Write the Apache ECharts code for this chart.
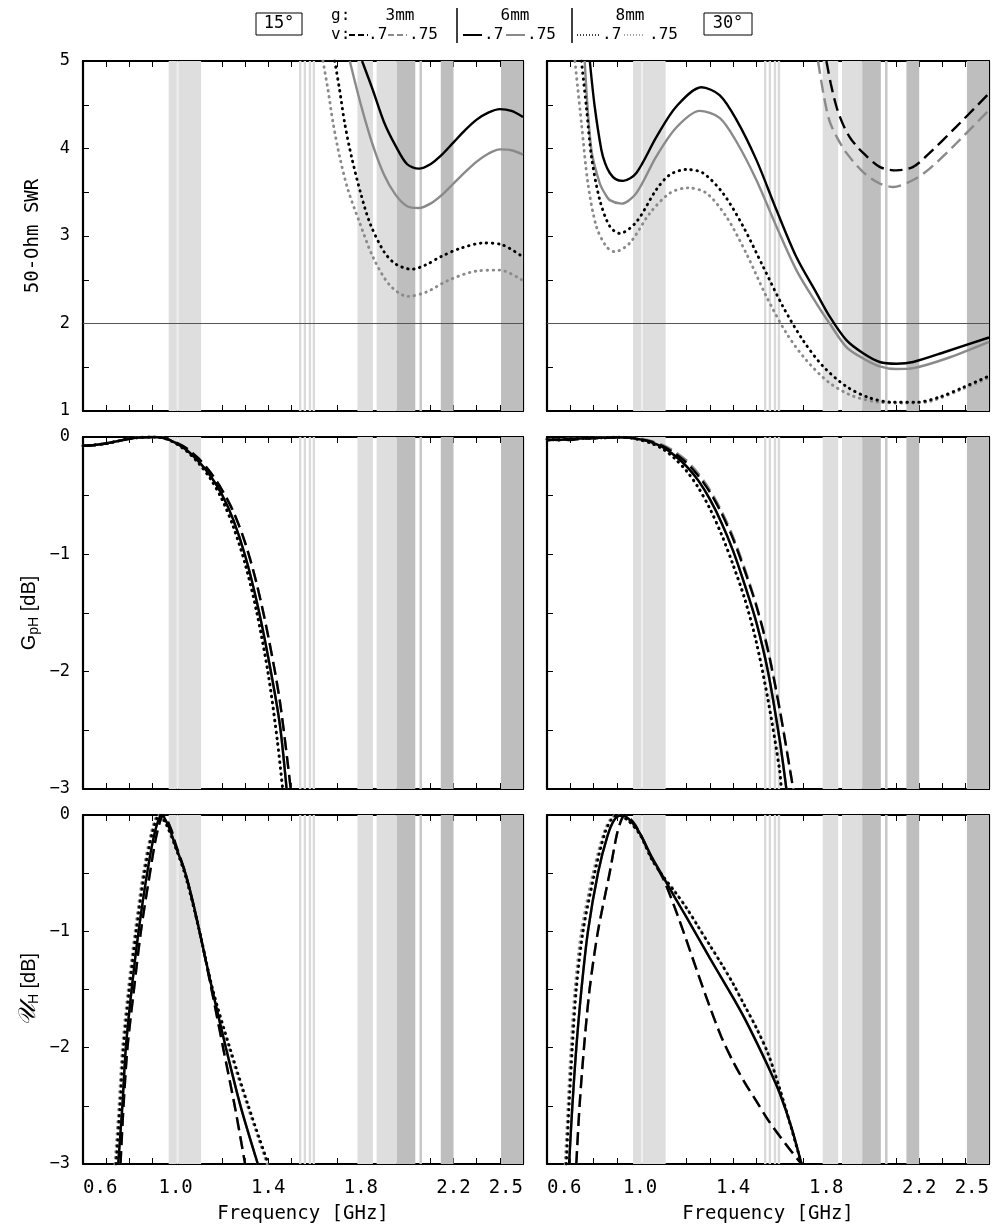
<!DOCTYPE html>
<html><head><meta charset="utf-8">
<script src="https://cdn.jsdelivr.net/npm/echarts@6/dist/echarts.min.js"></script>
<style>html,body{margin:0;padding:0;background:#fff}#c{width:1006px;height:1225px}</style>
</head><body><div id="c"></div>
<script>
// ---------- tick labels ----------
const xTickLabels = [0.6, 1.0, 1.4, 1.8, 2.2, 2.5];
const swrTickLabels = [1, 2, 3, 4, 5];
const dbTickLabels = [0, -1, -2, -3];
const swrLimit = 2;

// ---------- frequency bands [GHz] ----------
const bandsLight = [[0.97, 1.005], [1.012, 1.11], [1.785, 1.852], [1.868, 1.955]];
const bandsGap = [[1.005, 1.012]];
const bandsThin = [[1.533, 1.543], [1.553, 1.563], [1.575, 1.585], [1.592, 1.602]];
const bandsMid = [[2.053, 2.064]];
const bandsDark = [[1.955, 2.035], [2.145, 2.2], [2.405, 2.5]];

// ---------- 50-Ohm SWR, 15 deg ----------
const swr15_g6_v70 = [[1.805,5.0],[1.85,4.68],[1.90,4.30],[1.95,4.03],[2.00,3.82],[2.05,3.77],[2.10,3.82],[2.15,3.93],[2.20,4.07],[2.25,4.21],[2.30,4.33],[2.35,4.41],[2.40,4.45],[2.45,4.43],[2.50,4.36]];
const swr15_g6_v75 = [[1.752,5.0],[1.80,4.50],[1.85,4.05],[1.90,3.70],[1.95,3.47],[2.00,3.34],[2.05,3.32],[2.10,3.37],[2.15,3.47],[2.20,3.60],[2.25,3.73],[2.30,3.85],[2.35,3.94],[2.40,3.99],[2.45,3.98],[2.50,3.93]];
const swr15_g8_v70 = [[1.687,5.0],[1.708,4.67],[1.73,4.29],[1.76,3.90],[1.80,3.48],[1.84,3.14],[1.90,2.82],[1.95,2.68],[2.02,2.62],[2.08,2.67],[2.15,2.77],[2.23,2.86],[2.33,2.92],[2.41,2.90],[2.50,2.76]];
const swr15_g8_v75 = [[1.636,5.0],[1.658,4.67],[1.68,4.29],[1.708,3.91],[1.744,3.53],[1.795,3.15],[1.852,2.76],[1.924,2.44],[2.003,2.31],[2.083,2.36],[2.183,2.50],[2.30,2.60],[2.40,2.61],[2.50,2.49]];

// ---------- 50-Ohm SWR, 30 deg ----------
const swr30_g3_v70 = [[1.801,5.0],[1.82,4.74],[1.844,4.48],[1.87,4.29],[1.901,4.13],[1.93,4.03],[1.959,3.95],[2.03,3.79],[2.102,3.75],[2.174,3.79],[2.245,3.95],[2.36,4.25],[2.50,4.63]];
const swr30_g3_v75 = [[1.765,5.0],[1.79,4.60],[1.815,4.31],[1.85,4.11],[1.887,3.95],[1.959,3.73],[2.03,3.60],[2.088,3.56],[2.174,3.64],[2.245,3.77],[2.36,4.06],[2.50,4.44]];
const swr30_g6_v70 = [[0.784,5.0],[0.805,4.48],[0.834,3.98],[0.85,3.83],[0.87,3.72],[0.895,3.65],[0.927,3.63],[0.984,3.72],[1.07,4.13],[1.156,4.48],[1.264,4.70],[1.342,4.61],[1.414,4.33],[1.50,3.87],[1.586,3.30],[1.672,2.76],[1.758,2.35],[1.815,2.08],[1.887,1.81],[1.959,1.66],[2.03,1.56],[2.102,1.54],[2.174,1.56],[2.317,1.68],[2.50,1.84]];
const swr30_g6_v75 = [[0.762,5.0],[0.791,3.98],[0.827,3.60],[0.85,3.48],[0.87,3.41],[0.92,3.37],[0.984,3.49],[1.07,3.91],[1.156,4.24],[1.256,4.43],[1.342,4.35],[1.414,4.08],[1.50,3.64],[1.586,3.11],[1.672,2.61],[1.758,2.23],[1.815,2.00],[1.887,1.73],[1.959,1.60],[2.03,1.51],[2.10,1.48],[2.174,1.49],[2.317,1.60],[2.50,1.79]];
const swr30_g8_v70 = [[0.748,5.0],[0.769,4.48],[0.791,3.91],[0.827,3.41],[0.87,3.11],[0.913,3.03],[0.984,3.16],[1.07,3.53],[1.128,3.70],[1.199,3.76],[1.27,3.72],[1.356,3.49],[1.443,3.11],[1.529,2.65],[1.615,2.19],[1.70,1.81],[1.787,1.51],[1.887,1.28],[1.987,1.15],[2.088,1.10],[2.188,1.10],[2.288,1.16],[2.389,1.27],[2.50,1.40]];
const swr30_g8_v75 = [[0.72,5.0],[0.748,4.29],[0.776,3.60],[0.812,3.11],[0.855,2.88],[0.891,2.82],[0.956,2.92],[1.042,3.26],[1.128,3.49],[1.206,3.55],[1.285,3.49],[1.371,3.22],[1.457,2.80],[1.543,2.31],[1.629,1.89],[1.715,1.58],[1.815,1.32],[1.916,1.17],[2.03,1.10],[2.145,1.09],[2.246,1.11],[2.375,1.24],[2.50,1.38]];

// ---------- G_pH [dB], 15 deg ----------
const gph15_g6 = [[0.6,-0.075],[0.65,-0.068],[0.7,-0.055],[0.75,-0.035],[0.8,-0.015],[0.85,-0.003],[0.9,0],[0.95,-0.01],[1.0,-0.05],[1.05,-0.115],[1.1,-0.21],[1.15,-0.33],[1.2,-0.49],[1.25,-0.71],[1.3,-1.01],[1.35,-1.40],[1.4,-1.88],[1.45,-2.45],[1.479,-3.0]];
const gph15_g3 = [[0.6,-0.075],[0.65,-0.068],[0.7,-0.055],[0.75,-0.035],[0.8,-0.015],[0.85,-0.003],[0.9,0],[0.95,-0.01],[1.0,-0.045],[1.05,-0.10],[1.1,-0.185],[1.15,-0.30],[1.2,-0.45],[1.25,-0.64],[1.3,-0.90],[1.35,-1.25],[1.4,-1.70],[1.45,-2.25],[1.497,-3.0]];
const gph15_g8 = [[0.6,-0.075],[0.65,-0.068],[0.7,-0.055],[0.75,-0.035],[0.8,-0.015],[0.85,-0.003],[0.9,0],[0.95,-0.01],[1.0,-0.055],[1.05,-0.125],[1.1,-0.225],[1.15,-0.355],[1.2,-0.53],[1.25,-0.77],[1.3,-1.08],[1.35,-1.49],[1.4,-2.02],[1.44,-2.6],[1.462,-3.0]];

// ---------- G_pH [dB], 30 deg ----------
const gph30_g6 = [[0.6,-0.02],[0.65,-0.025],[0.7,-0.015],[0.75,-0.012],[0.8,-0.01],[0.85,-0.005],[0.9,-0.002],[0.95,-0.005],[1.0,-0.02],[1.05,-0.045],[1.1,-0.09],[1.15,-0.16],[1.2,-0.25],[1.25,-0.37],[1.3,-0.53],[1.35,-0.73],[1.4,-0.97],[1.45,-1.26],[1.5,-1.58],[1.55,-2.0],[1.6,-2.58],[1.629,-3.0]];
const gph30_g3 = [[0.6,-0.03],[0.65,-0.02],[0.7,-0.025],[0.75,-0.015],[0.8,-0.01],[0.85,-0.008],[0.9,-0.002],[0.95,-0.004],[1.0,-0.018],[1.05,-0.04],[1.1,-0.08],[1.15,-0.14],[1.2,-0.22],[1.25,-0.33],[1.3,-0.47],[1.35,-0.65],[1.4,-0.87],[1.45,-1.14],[1.5,-1.44],[1.55,-1.82],[1.6,-2.32],[1.65,-2.9],[1.658,-3.0]];
const gph30_g3_v75 = [[0.6,-0.02],[0.65,-0.02],[0.7,-0.015],[0.75,-0.012],[0.8,-0.01],[0.85,-0.005],[0.9,-0.002],[0.95,-0.004],[1.0,-0.015],[1.05,-0.035],[1.1,-0.07],[1.15,-0.125],[1.2,-0.20],[1.25,-0.31],[1.3,-0.45],[1.35,-0.63],[1.4,-0.85],[1.45,-1.12],[1.5,-1.43],[1.55,-1.81],[1.6,-2.31],[1.65,-2.9],[1.66,-3.0]];
const gph30_g8 = [[0.6,-0.02],[0.65,-0.025],[0.7,-0.015],[0.75,-0.012],[0.8,-0.01],[0.85,-0.005],[0.9,-0.002],[0.95,-0.005],[1.0,-0.025],[1.05,-0.055],[1.1,-0.105],[1.15,-0.185],[1.2,-0.29],[1.25,-0.43],[1.3,-0.61],[1.35,-0.83],[1.4,-1.09],[1.45,-1.38],[1.5,-1.75],[1.55,-2.24],[1.6,-2.84],[1.607,-3.0]];

// ---------- U_H [dB], 15 deg ----------
const uh15_g6 = [[0.752,-3.0],[0.77,-2.5],[0.785,-2.0],[0.81,-1.5],[0.84,-1.0],[0.877,-0.5],[0.91,-0.15],[0.94,0],[0.97,-0.1],[1.0,-0.27],[1.042,-0.5],[1.075,-0.75],[1.103,-1.0],[1.158,-1.5],[1.217,-2.0],[1.28,-2.5],[1.355,-3.0]];
const uh15_g3 = [[0.762,-3.0],[0.775,-2.5],[0.792,-2.0],[0.82,-1.5],[0.85,-1.0],[0.885,-0.55],[0.92,-0.15],[0.948,0],[0.98,-0.12],[1.0,-0.25],[1.042,-0.5],[1.103,-1.0],[1.155,-1.5],[1.205,-2.0],[1.255,-2.5],[1.30,-3.0]];
const uh15_g8 = [[0.743,-3.0],[0.76,-2.5],[0.775,-2.0],[0.80,-1.5],[0.83,-1.0],[0.865,-0.5],[0.90,-0.15],[0.93,0],[0.96,-0.08],[1.0,-0.28],[1.042,-0.52],[1.103,-1.0],[1.16,-1.5],[1.234,-2.0],[1.314,-2.5],[1.40,-3.0]];
const uh15_g8_v75 = [[0.738,-3.0],[0.755,-2.5],[0.77,-2.0],[0.795,-1.5],[0.825,-1.0],[0.86,-0.5],[0.895,-0.15],[0.925,0],[0.96,-0.09],[1.0,-0.28],[1.042,-0.52],[1.103,-1.0],[1.16,-1.5],[1.23,-2.0],[1.31,-2.5],[1.395,-3.0]];

// ---------- U_H [dB], 30 deg ----------
const uh30_g6 = [[0.695,-3],[0.709,-2.5],[0.726,-2],[0.748,-1.5],[0.776,-1],[0.819,-0.5],[0.86,-0.18],[0.89,-0.04],[0.92,0],[0.96,-0.05],[1.0,-0.16],[1.05,-0.36],[1.1,-0.535],[1.15,-0.71],[1.2,-0.88],[1.25,-1.055],[1.3,-1.23],[1.35,-1.40],[1.4,-1.57],[1.45,-1.75],[1.5,-1.95],[1.55,-2.16],[1.6,-2.39],[1.65,-2.68],[1.694,-3]];
const uh30_g3 = [[0.726,-3],[0.74,-2.5],[0.759,-2],[0.783,-1.5],[0.819,-1],[0.869,-0.5],[0.9,-0.17],[0.92,-0.04],[0.934,0],[0.97,-0.06],[1.0,-0.16],[1.05,-0.37],[1.1,-0.55],[1.15,-0.80],[1.2,-1.08],[1.25,-1.37],[1.3,-1.65],[1.35,-1.91],[1.4,-2.12],[1.45,-2.30],[1.5,-2.46],[1.55,-2.62],[1.6,-2.76],[1.65,-2.89],[1.694,-3]];
const uh30_g8 = [[0.683,-3],[0.695,-2.5],[0.709,-2],[0.726,-1.5],[0.755,-1],[0.805,-0.5],[0.85,-0.15],[0.88,-0.03],[0.905,0],[0.95,-0.05],[1.0,-0.17],[1.05,-0.38],[1.1,-0.53],[1.15,-0.66],[1.2,-0.80],[1.25,-0.96],[1.3,-1.12],[1.35,-1.28],[1.4,-1.45],[1.45,-1.64],[1.5,-1.83],[1.55,-2.05],[1.6,-2.35],[1.65,-2.69],[1.694,-3]];
const uh30_g8_v75 = [[0.678,-3],[0.69,-2.5],[0.703,-2],[0.72,-1.5],[0.748,-1],[0.798,-0.5],[0.845,-0.15],[0.875,-0.03],[0.9,0],[0.95,-0.05],[1.0,-0.17],[1.05,-0.38],[1.1,-0.53],[1.15,-0.66],[1.2,-0.80],[1.25,-0.96],[1.3,-1.12],[1.35,-1.28],[1.4,-1.45],[1.45,-1.64],[1.5,-1.83],[1.55,-2.05],[1.6,-2.35],[1.65,-2.69],[1.694,-3]];

// ---------- styling ----------
const BLACK = '#000000', GRAY = '#8a8a8a';
const MONO = 'DejaVu Sans Mono', SANS = 'Liberation Sans';
const lineStyles = {
  solid: { type: 'solid', width: 2.4 },
  dash: { type: [13, 6], width: 2.4 },
  dot: { type: [0.5, 5.5], width: 2.9, cap: 'round' }
};

// curves per panel: [data, color, style]  (gray first so black draws on top)
const panels = [
  { kind: 'swr', curves: [[swr15_g8_v75, GRAY, 'dot'], [swr15_g6_v75, GRAY, 'solid'], [swr15_g8_v70, BLACK, 'dot'], [swr15_g6_v70, BLACK, 'solid']] },
  { kind: 'swr', curves: [[swr30_g3_v75, GRAY, 'dash'], [swr30_g8_v75, GRAY, 'dot'], [swr30_g6_v75, GRAY, 'solid'], [swr30_g3_v70, BLACK, 'dash'], [swr30_g8_v70, BLACK, 'dot'], [swr30_g6_v70, BLACK, 'solid']] },
  { kind: 'gph', curves: [[gph15_g3, GRAY, 'dash'], [gph15_g8, GRAY, 'dot'], [gph15_g6, GRAY, 'solid'], [gph15_g8, BLACK, 'dot'], [gph15_g6, BLACK, 'solid'], [gph15_g3, BLACK, 'dash']] },
  { kind: 'gph', curves: [[gph30_g3_v75, GRAY, 'dash'], [gph30_g8, GRAY, 'dot'], [gph30_g6, GRAY, 'solid'], [gph30_g8, BLACK, 'dot'], [gph30_g6, BLACK, 'solid'], [gph30_g3, BLACK, 'dash']] },
  { kind: 'uh', curves: [[uh15_g3, GRAY, 'dash'], [uh15_g8_v75, GRAY, 'dot'], [uh15_g6, GRAY, 'solid'], [uh15_g8, BLACK, 'dot'], [uh15_g6, BLACK, 'solid'], [uh15_g3, BLACK, 'dash']] },
  { kind: 'uh', curves: [[uh30_g3, GRAY, 'dash'], [uh30_g8_v75, GRAY, 'dot'], [uh30_g6, GRAY, 'solid'], [uh30_g8, BLACK, 'dot'], [uh30_g6, BLACK, 'solid'], [uh30_g3, BLACK, 'dash']] }
];

const grids = [
  { left: 83, top: 61, width: 440, height: 350 }, { left: 547, top: 61, width: 442, height: 350 },
  { left: 83, top: 437, width: 440, height: 352 }, { left: 547, top: 437, width: 442, height: 352 },
  { left: 83, top: 815, width: 440, height: 351 }, { left: 547, top: 815, width: 442, height: 351 }
];

function near(v, list) { return list.some(t => Math.abs(t - v) < 1e-6); }
function fmtX(v) { return near(v, xTickLabels) ? v.toFixed(1) : ''; }
function fmtY(v) {
  const list = v > 0.5 ? swrTickLabels : dbTickLabels;
  if (!near(v, list)) return '';
  const r = Math.round(v);
  return r < 0 ? '\u2212' + Math.abs(r) : String(r);
}

const yNames = ['50-Ohm SWR', '{a|G}{s|pH}{a| [dB]}', '{u|\uD835\uDCB0}{s|H}{a| [dB]}'];
const nameRich = {
  a: { fontFamily: SANS, fontSize: 20, color: '#000', lineHeight: 28 },
  s: { fontFamily: SANS, fontSize: 14, color: '#000', lineHeight: 28, padding: [10, 0, 0, 0] },
  u: { fontFamily: 'DejaVu Serif', fontSize: 24, fontStyle: 'italic', color: '#000', lineHeight: 28 }
};

const xAxes = [], yAxes = [];
const axisLineStyle = { onZero: false, lineStyle: { color: '#000', width: 2.2 } };
const tickStyle = { inside: true, length: 6, lineStyle: { color: '#000', width: 1 } };
for (let i = 0; i < 6; i++) {
  const bottomRow = i >= 4;
  xAxes.push({
    type: 'value', gridIndex: i, min: 0.6, max: 2.5, interval: 0.1, position: 'bottom',
    axisLine: axisLineStyle, axisTick: tickStyle, splitLine: { show: false },
    axisLabel: { show: bottomRow, formatter: fmtX, fontFamily: MONO, fontSize: 19, color: '#000', margin: 15,
      showMinLabel: true, showMaxLabel: true, alignMinLabel: 'left', alignMaxLabel: 'right' },
    name: bottomRow ? 'Frequency [GHz]' : '', nameLocation: 'middle', nameGap: 41,
    nameTextStyle: { fontFamily: MONO, fontSize: 19, color: '#000' }
  });
}
for (let i = 0; i < 6; i++) {
  xAxes.push({
    type: 'value', gridIndex: i, min: 0.6, max: 2.5, interval: 0.1, position: 'top',
    axisLine: axisLineStyle, axisTick: tickStyle, splitLine: { show: false }, axisLabel: { show: false }
  });
}
for (let i = 0; i < 6; i++) {
  const row = Math.floor(i / 2), leftCol = i % 2 === 0;
  const swr = row === 0;
  yAxes.push({
    type: 'value', gridIndex: i, min: swr ? 1 : -3, max: swr ? 5 : 0, interval: 0.5, position: 'left',
    axisLine: axisLineStyle, axisTick: tickStyle, splitLine: { show: false },
    axisLabel: { show: leftCol, formatter: fmtY, fontFamily: MONO, fontSize: 17, color: '#000', margin: 13 },
    name: leftCol ? yNames[row] : '', nameLocation: 'middle', nameGap: 40, nameRotate: 90,
    nameTextStyle: row === 0 ? { fontFamily: MONO, fontSize: 19, color: '#000' } : { rich: nameRich }
  });
}
for (let i = 0; i < 6; i++) {
  const swr = i < 2;
  yAxes.push({
    type: 'value', gridIndex: i, min: swr ? 1 : -3, max: swr ? 5 : 0, interval: 0.5, position: 'right',
    axisLine: axisLineStyle, axisTick: tickStyle, splitLine: { show: false }, axisLabel: { show: false }
  });
}

function bandItems(list, color) {
  return list.map(b => [{ xAxis: b[0], itemStyle: { color: color } }, { xAxis: b[1] }]);
}
const allBands = [].concat(
  bandItems(bandsLight, '#dedede'), bandItems(bandsGap, '#ececec'), bandItems(bandsThin, '#dadada'),
  bandItems(bandsMid, '#c8c8c8'), bandItems(bandsDark, '#bebebe'));

const series = [];
for (let i = 0; i < 6; i++) {
  series.push({
    type: 'line', xAxisIndex: i, yAxisIndex: i, data: [], z: 1, silent: true,
    markArea: { silent: true, data: allBands, label: { show: false } }
  });
  if (i < 2) {
    series.push({
      type: 'line', xAxisIndex: i, yAxisIndex: i, data: [], z: 2, silent: true,
      markLine: { silent: true, symbol: 'none', label: { show: false },
        lineStyle: { color: '#555', width: 1.2, type: 'solid' }, data: [{ yAxis: swrLimit }] }
    });
  }
  panels[i].curves.forEach((c, k) => {
    series.push({
      type: 'line', xAxisIndex: i, yAxisIndex: i, data: c[0], showSymbol: false, symbol: 'none',
      smooth: 0.3, clip: true, z: 3 + k,
      lineStyle: Object.assign({ color: c[1] }, lineStyles[c[2]])
    });
  });
}

// ---------- top legend (graphic) ----------
const LF = '16px ' + MONO;
function txt(x, y, t, align, font) {
  return { type: 'text', x: x, y: y, silent: true,
    style: { text: t, font: font || LF, fill: '#000', align: align || 'left', verticalAlign: 'middle',
      textAlign: align || 'left', textVerticalAlign: 'middle' } };
}
function seg(x1, x2, y, color, st) {
  return { type: 'line', silent: true, shape: { x1: x1, y1: y, x2: x2, y2: y },
    style: { stroke: color, lineWidth: st === 'dot' ? 1.6 : 2, lineDash: st === 'dash' ? [6, 3] : (st === 'dot' ? [1, 2] : null) } };
}
const R1 = 16, R2 = 35;
const graphic = [
  { type: 'rect', silent: true, shape: { x: 256, y: 13, width: 46, height: 22 }, style: { fill: '#fff', stroke: '#000', lineWidth: 1 } },
  txt(279, 24, '15°', 'center', '17px ' + MONO),
  { type: 'rect', silent: true, shape: { x: 704, y: 13, width: 48, height: 22 }, style: { fill: '#fff', stroke: '#000', lineWidth: 1 } },
  txt(728, 24, '30°', 'center', '17px ' + MONO),
  txt(331, R1, 'g:'), txt(400, R1, '3mm', 'center'), txt(515, R1, '6mm', 'center'), txt(630, R1, '8mm', 'center'),
  { type: 'line', silent: true, shape: { x1: 457, y1: 8, x2: 457, y2: 43 }, style: { stroke: '#000', lineWidth: 1.5 } },
  { type: 'line', silent: true, shape: { x1: 572, y1: 8, x2: 572, y2: 43 }, style: { stroke: '#000', lineWidth: 1.5 } },
  txt(331, R2, 'v:'),
  seg(349, 368, R2, BLACK, 'dash'), txt(368, R2, '.7'),
  seg(388, 407, R2, GRAY, 'dash'), txt(409, R2, '.75'),
  seg(463, 482, R2, BLACK, 'solid'), txt(484, R2, '.7'),
  seg(506, 525, R2, GRAY, 'solid'), txt(527, R2, '.75'),
  seg(577, 600, R2, BLACK, 'dot'), txt(602, R2, '.7'),
  seg(624, 645, R2, GRAY, 'dot'), txt(649, R2, '.75')
];

const chart = echarts.init(document.getElementById('c'), null, { renderer: 'canvas' });
chart.setOption({
  animation: false,
  backgroundColor: '#ffffff',
  grid: grids,
  xAxis: xAxes,
  yAxis: yAxes,
  series: series,
  graphic: graphic
});
</script></body></html>
